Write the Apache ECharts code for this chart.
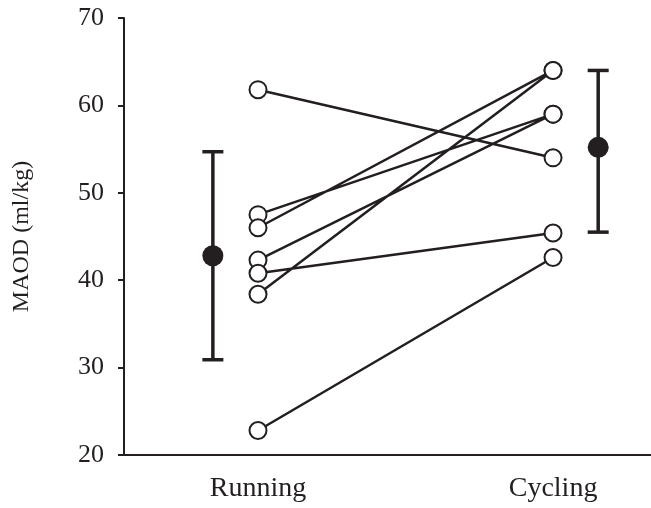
<!DOCTYPE html>
<html>
<head>
<meta charset="utf-8">
<script src="https://cdn.jsdelivr.net/npm/echarts@6/dist/echarts.min.js"></script>
<style>
  html, body { margin: 0; padding: 0; background: #fff; }
  #main { width: 651px; height: 508px; }
</style>
</head>
<body>
<div id="main"></div>
<script>
var categories = ["Running", "Cycling"];
var running = [61.8, 47.5, 46.0, 42.3, 40.8, 38.4, 22.8];
var cycling = [54.0, 59.0, 64.0, 59.0, 45.4, 64.0, 42.6];
var meanValues = [42.8, 55.2];
var errLow = [30.9, 45.5];
var errHigh = [54.7, 64.0];
var yTicks = [20, 30, 40, 50, 60, 70];

var ink = "#231f20";
var font = "Liberation Serif";

// x positions: 1 = Running, 2 = Cycling; means sit a bit outside
var catX = [1, 2];
var meanX = [0.847, 2.153];

var lineData = [];
var pointData = [];
running.forEach(function (r, i) {
  lineData.push([1, r], [2, cycling[i]], "-");
  pointData.push([1, r], [2, cycling[i]]);
});
lineData.pop();

var errData = meanValues.map(function (m, i) {
  return [meanX[i], errLow[i], errHigh[i]];
});
var meanData = meanValues.map(function (m, i) {
  return [meanX[i], m];
});

var myChart = echarts.init(document.getElementById("main"));
var option = {
  backgroundColor: "#fff",
  animation: false,
  grid: { left: 124, right: 0, top: 18, bottom: 53 },
  xAxis: {
    type: "value",
    min: 0.5458,
    max: 2.332,
    splitLine: { show: false },
    axisTick: { show: false },
    axisLine: { lineStyle: { color: ink, width: 2 } },
    axisLabel: {
      customValues: catX,
      formatter: function (v) {
        return categories[Math.round(v) - 1];
      },
      color: ink,
      fontFamily: font,
      fontSize: 28,
      margin: 20,
    },
  },
  yAxis: {
    type: "value",
    min: 20,
    max: 70,
    interval: 10,
    name: "MAOD (ml/kg)",
    nameLocation: "middle",
    nameGap: 90,
    nameTextStyle: { color: ink, fontFamily: font, fontSize: 24 },
    splitLine: { show: false },
    axisLine: { show: true, lineStyle: { color: ink, width: 2 } },
    axisTick: { show: true, length: 6, lineStyle: { color: ink, width: 2 } },
    axisLabel: {
      color: ink,
      fontFamily: font,
      fontSize: 26,
      margin: 20,
      formatter: function (v) {
        return yTicks.indexOf(v) >= 0 ? String(v) : "";
      },
    },
  },
  series: [
    {
      type: "line",
      data: lineData,
      connectNulls: false,
      symbol: "none",
      lineStyle: { color: ink, width: 2.5 },
      z: 2,
    },
    {
      type: "scatter",
      data: pointData,
      symbol: "circle",
      symbolSize: 17,
      itemStyle: { color: "#fff", borderColor: ink, borderWidth: 2, opacity: 1 },
      z: 3,
    },
    {
      type: "custom",
      data: errData,
      renderItem: function (params, api) {
        var x = api.value(0);
        var lo = api.coord([x, api.value(1)]);
        var hi = api.coord([x, api.value(2)]);
        var half = 10.5;
        var style = { stroke: ink, lineWidth: 3.5 };
        return {
          type: "group",
          children: [
            { type: "line", shape: { x1: lo[0], y1: lo[1], x2: hi[0], y2: hi[1] }, style: style },
            { type: "line", shape: { x1: lo[0] - half, y1: lo[1], x2: lo[0] + half, y2: lo[1] }, style: style },
            { type: "line", shape: { x1: hi[0] - half, y1: hi[1], x2: hi[0] + half, y2: hi[1] }, style: style },
          ],
        };
      },
      z: 3,
    },
    {
      type: "scatter",
      data: meanData,
      symbol: "circle",
      symbolSize: 21,
      itemStyle: { color: ink, opacity: 1 },
      z: 4,
    },
  ],
};
myChart.setOption(option);
</script>
</body>
</html>
